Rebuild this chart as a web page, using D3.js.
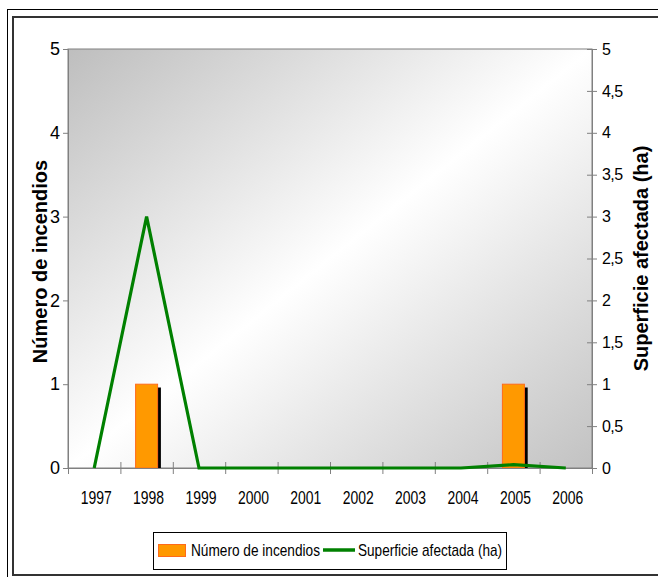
<!DOCTYPE html>
<html>
<head>
<meta charset="utf-8">
<script src="https://cdn.jsdelivr.net/npm/d3@7"></script>
<style>
  body { margin: 0; background: #fff; }
  svg { display: block; font-family: Arial, "Liberation Sans", sans-serif; }
</style>
</head>
<body>
<div id="chart"></div>
<script>
// data
const years = ["1997", "1998", "1999", "2000", "2001", "2002", "2003", "2004", "2005", "2006"];
const incendios = [0, 1, 0, 0, 0, 0, 0, 0, 1, 0];
const superficie = [0, 3, 0, 0, 0, 0, 0, 0, 0.04, 0];
const leftTicks = [0, 1, 2, 3, 4, 5];
const rightTicks = [0, 0.5, 1, 1.5, 2, 2.5, 3, 3.5, 4, 4.5, 5];
const seriesNames = ["Número de incendios", "Superficie afectada (ha)"];

const width = 658;
const height = 577;
const plot = { left: 68, top: 49, right: 592, bottom: 468 };

const svg = d3.select("#chart").append("svg")
    .attr("width", width)
    .attr("height", height);

// frames
svg.append("rect").attr("x", 7.5).attr("y", 9.5)
    .attr("width", 700).attr("height", 600)
    .attr("fill", "none").attr("stroke", "#000").attr("stroke-width", 1);
svg.append("rect").attr("x", 13).attr("y", 17)
    .attr("width", 700).attr("height", 558)
    .attr("fill", "none").attr("stroke", "#333").attr("stroke-width", 2);

const x = d3.scaleBand().domain(years).range([plot.left, plot.right]).padding(0);
const xEdges = d3.scaleLinear().domain([0, years.length]).range([plot.left, plot.right]);
const yLeft = d3.scaleLinear().domain([0, 5]).range([plot.bottom, plot.top]);
const yRight = d3.scaleLinear().domain([0, 5]).range([plot.bottom, plot.top]);

// plot background gradient
const defs = svg.append("defs");
const grad = defs.append("linearGradient").attr("id", "bg")
    .attr("x1", 0).attr("y1", 0).attr("x2", 1).attr("y2", 1);
grad.append("stop").attr("offset", 0).attr("stop-color", "#bebebe");
grad.append("stop").attr("offset", 0.5).attr("stop-color", "#ffffff");
grad.append("stop").attr("offset", 1).attr("stop-color", "#c2c2c2");

defs.append("clipPath").attr("id", "clip")
  .append("rect")
    .attr("x", plot.left).attr("y", plot.top)
    .attr("width", plot.right - plot.left).attr("height", plot.bottom - plot.top);

svg.append("rect")
    .attr("x", plot.left).attr("y", plot.top)
    .attr("width", plot.right - plot.left).attr("height", plot.bottom - plot.top)
    .attr("fill", "url(#bg)")
    .attr("stroke", "#808080").attr("stroke-width", 1);

// bars with drop shadow
const barW = x.bandwidth() * 0.42;
const bars = svg.append("g").attr("clip-path", "url(#clip)");
const barData = years.map((y, i) => ({ year: y, v: incendios[i] })).filter(d => d.v > 0);

bars.selectAll(".shadow").data(barData).enter().append("rect")
    .attr("class", "shadow")
    .attr("x", d => x(d.year) + x.bandwidth() / 2 - barW / 2 + 3.3)
    .attr("y", d => yLeft(d.v) + 3.3)
    .attr("width", barW)
    .attr("height", d => yLeft(0) - yLeft(d.v))
    .attr("fill", "#000");

bars.selectAll(".bar").data(barData).enter().append("rect")
    .attr("class", "bar")
    .attr("x", d => x(d.year) + x.bandwidth() / 2 - barW / 2)
    .attr("y", d => yLeft(d.v))
    .attr("width", barW)
    .attr("height", d => yLeft(0) - yLeft(d.v))
    .attr("fill", "#ff9900")
    .attr("stroke", "#ff6a1a").attr("stroke-width", 1);

// left axis
const gl = svg.append("g")
    .attr("transform", `translate(${plot.left},0)`)
    .call(d3.axisLeft(yLeft).tickValues(leftTicks).tickFormat(d3.format("d")).tickSize(5).tickPadding(3));
gl.select(".domain").attr("stroke", "#808080");
gl.selectAll(".tick line").attr("stroke", "#808080");
gl.selectAll(".tick text").attr("font-size", 18).attr("fill", "#000")
    .attr("font-family", "Arial, 'Liberation Sans', sans-serif");

// right axis
const commaFmt = d => String(d).replace(".", ",");
const gr = svg.append("g")
    .attr("transform", `translate(${plot.right},0)`)
    .call(d3.axisRight(yRight).tickValues(rightTicks).tickFormat(commaFmt).tickSize(5).tickPadding(5));
gr.select(".domain").attr("stroke", "#808080");
gr.selectAll(".tick line").attr("stroke", "#808080").attr("x1", -5);
gr.selectAll(".tick text").attr("font-size", 16).attr("fill", "#000")
    .attr("letter-spacing", -0.6)
    .attr("font-family", "Arial, 'Liberation Sans', sans-serif");

// bottom axis: ticks at category edges, crossing the axis
const gb = svg.append("g")
    .attr("transform", `translate(0,${plot.bottom})`)
    .call(d3.axisBottom(xEdges).tickValues(d3.range(years.length + 1)).tickFormat("").tickSize(6));
gb.select(".domain").attr("stroke", "#808080");
gb.selectAll(".tick line").attr("stroke", "#808080").attr("y1", -6);

svg.append("g").selectAll("text").data(years).enter().append("text")
    .attr("x", d => x(d) + x.bandwidth() / 2 + 2 - 15.5)
    .attr("y", 504)
    .attr("font-size", 19)
    .attr("textLength", 31)
    .attr("lengthAdjust", "spacingAndGlyphs")
    .text(d => d);

// line series
const line = d3.line()
    .x((d, i) => x(years[i]) + x.bandwidth() / 2)
    .y(d => yRight(d));
svg.append("path")
    .datum(superficie)
    .attr("d", line)
    .attr("fill", "none")
    .attr("stroke", "#008000")
    .attr("stroke-width", 3.2)
    .attr("stroke-linejoin", "miter");

// axis titles
svg.append("text")
    .attr("transform", `translate(47,${(plot.top + plot.bottom) / 2 + 3}) rotate(-90)`)
    .attr("text-anchor", "middle")
    .attr("font-size", 20).attr("font-weight", "bold")
    .text("Número de incendios");
svg.append("text")
    .attr("transform", `translate(648,${(plot.top + plot.bottom) / 2}) rotate(-90)`)
    .attr("text-anchor", "middle")
    .attr("font-size", 20).attr("font-weight", "bold")
    .text("Superficie afectada (ha)");

// legend
const lg = svg.append("g");
lg.append("rect").attr("x", 153.5).attr("y", 532.5).attr("width", 353).attr("height", 37)
    .attr("fill", "#fff").attr("stroke", "#000").attr("stroke-width", 1);
lg.append("rect").attr("x", 158.5).attr("y", 544.5).attr("width", 27).attr("height", 12)
    .attr("fill", "#ff9900").attr("stroke", "#ff6a1a");
lg.append("text").attr("x", 191).attr("y", 556)
    .attr("font-size", 17).attr("textLength", 129).attr("lengthAdjust", "spacingAndGlyphs")
    .text(seriesNames[0]);
lg.append("line").attr("x1", 323).attr("x2", 355).attr("y1", 550).attr("y2", 550)
    .attr("stroke", "#008000").attr("stroke-width", 3.5);
lg.append("text").attr("x", 358).attr("y", 556)
    .attr("font-size", 17).attr("textLength", 144).attr("lengthAdjust", "spacingAndGlyphs")
    .text(seriesNames[1]);
</script>
</body>
</html>
